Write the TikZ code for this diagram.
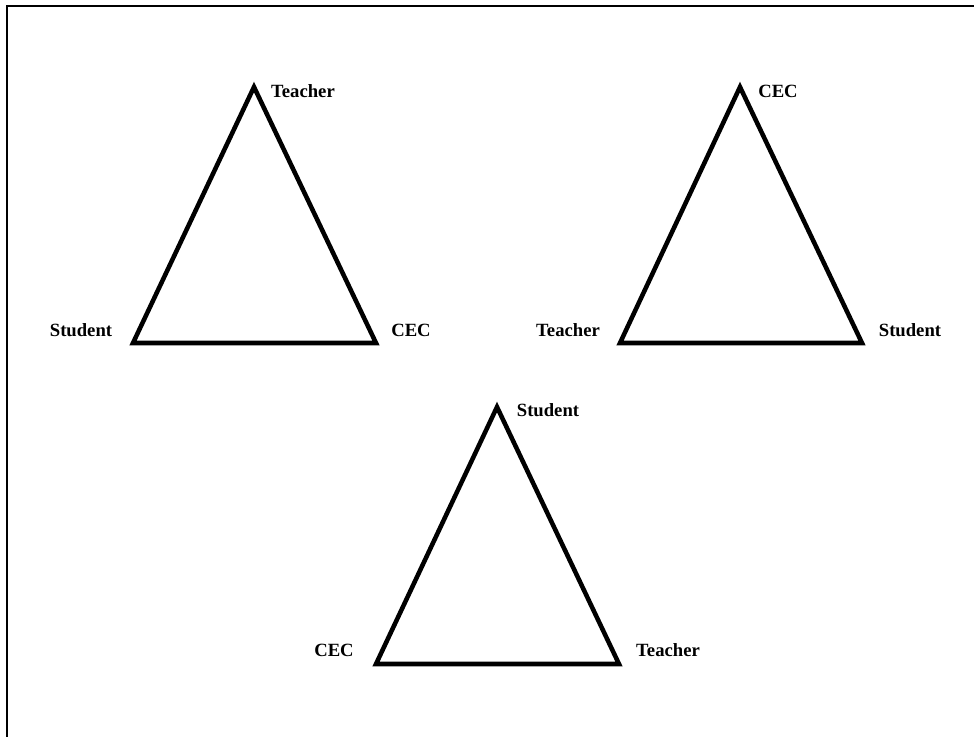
\documentclass[tikz,border=0pt]{standalone}
\usepackage{fontspec}
\setmainfont{Liberation Serif}
\begin{document}
\begin{tikzpicture}[x=0.75pt,y=-0.75pt,
  tri/.style={line width=3.4pt,line join=miter},
  frame/.style={line width=2.2pt},
  lbl/.style={font=\fontsize{14}{16}\selectfont\bfseries,inner sep=0pt}]
\useasboundingbox (0,0) rectangle (974,736);
\clip (0,0) rectangle (974,736);
\draw[frame] (7,6) rectangle (1000,760);
% triangle 1
\coordinate (a1) at (254,87);
\coordinate (b1) at (133,343);
\coordinate (c1) at (376,343);
\draw[tri] (a1) -- (b1) -- (c1) -- cycle;
\node[lbl] (la1) at (303,91) {Teacher};
\node[lbl] (lb1) at (81,330) {Student};
\node[lbl] (lc1) at (411,330) {CEC};
% triangle 2
\coordinate (a2) at (740,87);
\coordinate (b2) at (620,343);
\coordinate (c2) at (862,343);
\draw[tri] (a2) -- (b2) -- (c2) -- cycle;
\node[lbl] (la2) at (778,91) {CEC};
\node[lbl] (lb2) at (568,330) {Teacher};
\node[lbl] (lc2) at (910,330) {Student};
% triangle 3
\coordinate (a3) at (497,407);
\coordinate (b3) at (376,664);
\coordinate (c3) at (619,664);
\draw[tri] (a3) -- (b3) -- (c3) -- cycle;
\node[lbl] (la3) at (548,410) {Student};
\node[lbl] (lb3) at (334,650) {CEC};
\node[lbl] (lc3) at (668,650) {Teacher};
\end{tikzpicture}
\end{document}
